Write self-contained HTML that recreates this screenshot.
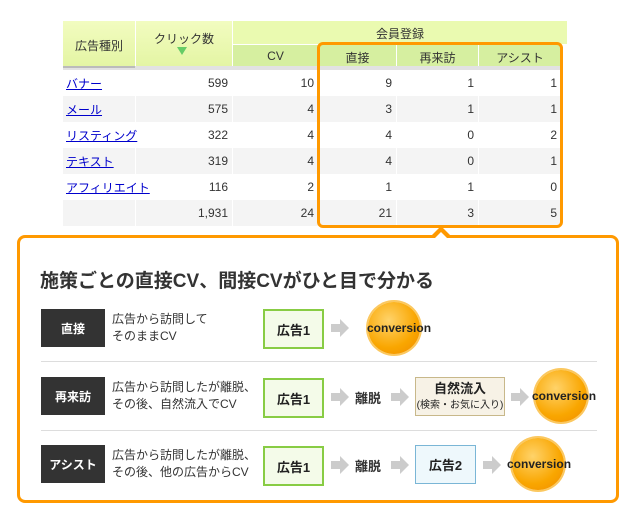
<!DOCTYPE html>
<html><head><meta charset="utf-8"><style>
body{margin:0;width:635px;height:524px;background:#fff;position:relative;overflow:hidden;font-family:"Liberation Sans","Noto Sans CJK JP",sans-serif;color:#333}
.a{position:absolute}
.c{position:absolute;font-size:12px;color:#333}
.r{text-align:right}
.lk{color:#00c;text-decoration:underline;font-size:12px}
.lab{position:absolute;left:41px;width:64px;height:38px;background:#333;color:#fff;font-size:12px;font-weight:bold;display:flex;align-items:center;justify-content:center}
.txt{position:absolute;left:112px;font-size:12px;line-height:17px;color:#333;white-space:nowrap}
.bx{position:absolute;height:36px;display:flex;flex-direction:column;align-items:center;justify-content:center;font-size:13px;font-weight:bold;color:#222}
.ar{position:absolute;width:0;height:0;border-top:9px solid transparent;border-bottom:9px solid transparent;border-left:9px solid #ccc}
.ars{position:absolute;height:8px;width:10px;background:#ccc}
.sun{position:absolute;width:52px;height:52px;border-radius:50%;background:radial-gradient(circle at 40% 35%,#ffd36a,#f9a600 60%,#f08a00);box-shadow:0 0 0 2px #fbc860}
.cv{position:absolute;font-size:12px;font-weight:bold;color:#222;white-space:nowrap}
.mt{position:absolute;font-size:13px;font-weight:bold;color:#333}
</style></head><body>
<div class="a" style="left:63px;top:21px;width:72px;height:45px;background:linear-gradient(#f2fcc0,#e4f5a4)"></div>
<div class="a" style="left:136px;top:21px;width:96px;height:45px;background:linear-gradient(#f2fcc0,#e4f5a4)"></div>
<div class="a" style="left:233px;top:21px;width:334px;height:23px;background:#eafab0"></div>
<div class="a" style="left:233px;top:45px;width:85px;height:21px;background:#d6efa0"></div>
<div class="a" style="left:319px;top:45px;width:77px;height:21px;background:#d6efa0"></div>
<div class="a" style="left:397px;top:45px;width:81px;height:21px;background:#d6efa0"></div>
<div class="a" style="left:479px;top:45px;width:82px;height:21px;background:#d6efa0"></div>
<div class="a" style="left:63px;top:66px;width:498px;height:4px;background:#e2e2e2"></div>
<div class="a" style="left:63px;top:66px;width:72px;height:2px;background:#bbb"></div>
<div class="c" style="left:63px;top:37px;width:72px;text-align:center">広告種別</div>
<div class="c" style="left:136px;top:30px;width:96px;text-align:center">クリック数</div>
<div class="a" style="left:177px;top:47px;border-left:5px solid transparent;border-right:5px solid transparent;border-top:8px solid #6c6"></div>
<div class="c" style="left:233px;top:25px;width:334px;text-align:center">会員登録</div>
<div class="c" style="left:233px;top:49px;width:85px;text-align:center">CV</div>
<div class="c" style="left:319px;top:49px;width:77px;text-align:center">直接</div>
<div class="c" style="left:397px;top:49px;width:81px;text-align:center">再来訪</div>
<div class="c" style="left:479px;top:49px;width:82px;text-align:center">アシスト</div>
<div class="a" style="left:63px;top:96px;width:498px;height:26px;background:#f4f4f4"></div>
<div class="a" style="left:63px;top:148px;width:498px;height:26px;background:#f4f4f4"></div>
<div class="a" style="left:63px;top:200px;width:498px;height:26px;background:#f4f4f4"></div>
<div class="a" style="left:135px;top:70px;width:1px;height:156px;background:#fff"></div>
<div class="a" style="left:232px;top:70px;width:1px;height:156px;background:#fff"></div>
<div class="a" style="left:318px;top:70px;width:1px;height:156px;background:#fff"></div>
<div class="a" style="left:396px;top:70px;width:1px;height:156px;background:#fff"></div>
<div class="a" style="left:478px;top:70px;width:1px;height:156px;background:#fff"></div>
<div class="a" style="left:66px;top:75px"><span class="lk">バナー</span></div>
<div class="a" style="left:66px;top:101px"><span class="lk">メール</span></div>
<div class="a" style="left:66px;top:127px"><span class="lk">リスティング</span></div>
<div class="a" style="left:66px;top:153px"><span class="lk">テキスト</span></div>
<div class="a" style="left:66px;top:179px"><span class="lk">アフィリエイト</span></div>
<div class="c r" style="left:136px;top:70px;width:92px;line-height:26px">599<br>575<br>322<br>319<br>116<br>1,931</div>
<div class="c r" style="left:233px;top:70px;width:81px;line-height:26px">10<br>4<br>4<br>4<br>2<br>24</div>
<div class="c r" style="left:319px;top:70px;width:73px;line-height:26px">9<br>3<br>4<br>4<br>1<br>21</div>
<div class="c r" style="left:397px;top:70px;width:77px;line-height:26px">1<br>1<br>0<br>0<br>1<br>3</div>
<div class="c r" style="left:479px;top:70px;width:78px;line-height:26px">1<br>1<br>2<br>1<br>0<br>5</div>
<div class="a" style="left:317px;top:42px;width:246px;height:186px;border:3px solid #f90;border-radius:6px;box-sizing:border-box"></div>
<div class="a" style="left:17px;top:235px;width:602px;height:268px;border:3px solid #f90;border-radius:8px;box-sizing:border-box"></div>
<div class="a" style="left:430px;top:226px;border-left:11px solid transparent;border-right:11px solid transparent;border-bottom:11px solid #f90"></div>
<div class="a" style="left:434px;top:232px;border-left:7px solid transparent;border-right:7px solid transparent;border-bottom:7px solid #fff"></div>
<div class="a" style="left:40px;top:266px;font-size:19px;font-weight:bold;color:#333;white-space:nowrap">施策ごとの直接CV、間接CVがひと目で分かる</div>
<div class="a" style="left:41px;top:361px;width:556px;height:1px;background:#ddd"></div>
<div class="a" style="left:41px;top:430px;width:556px;height:1px;background:#ddd"></div>
<!-- row1 -->
<div class="lab" style="top:309px">直接</div>
<div class="txt" style="top:311px">広告から訪問して<br>そのままCV</div>
<div class="bx" style="left:263px;top:309px;width:57px;border:2px solid #8c4;background:#f4fbe9">広告1</div>
<div class="ars" style="left:331px;top:324px"></div><div class="ar" style="left:340px;top:319px"></div>
<div class="sun" style="left:368px;top:302px"></div><div class="cv" style="left:367px;top:321px">conversion</div>
<!-- row2 -->
<div class="lab" style="top:377px">再来訪</div>
<div class="txt" style="top:379px">広告から訪問したが離脱、<br>その後、自然流入でCV</div>
<div class="bx" style="left:263px;top:378px;width:57px;border:2px solid #8c4;background:#f4fbe9">広告1</div>
<div class="ars" style="left:331px;top:393px"></div><div class="ar" style="left:340px;top:388px"></div>
<div class="mt" style="left:355px;top:388px">離脱</div>
<div class="ars" style="left:391px;top:393px"></div><div class="ar" style="left:400px;top:388px"></div>
<div class="bx" style="left:415px;top:377px;width:88px;height:37px;border:1px solid #c8b88a;background:#f7f2e6;font-size:13px;line-height:17px">自然流入<span style="font-size:10px;font-weight:normal">(検索・お気に入り)</span></div>
<div class="ars" style="left:511px;top:393px"></div><div class="ar" style="left:520px;top:388px"></div>
<div class="sun" style="left:535px;top:370px"></div><div class="cv" style="left:532px;top:389px">conversion</div>
<!-- row3 -->
<div class="lab" style="top:445px">アシスト</div>
<div class="txt" style="top:447px">広告から訪問したが離脱、<br>その後、他の広告からCV</div>
<div class="bx" style="left:263px;top:446px;width:57px;border:2px solid #8c4;background:#f4fbe9">広告1</div>
<div class="ars" style="left:331px;top:461px"></div><div class="ar" style="left:340px;top:456px"></div>
<div class="mt" style="left:355px;top:456px">離脱</div>
<div class="ars" style="left:391px;top:461px"></div><div class="ar" style="left:400px;top:456px"></div>
<div class="bx" style="left:415px;top:445px;width:59px;height:37px;border:1px solid #7ab6d6;background:#eef8fc">広告2</div>
<div class="ars" style="left:483px;top:461px"></div><div class="ar" style="left:492px;top:456px"></div>
<div class="sun" style="left:512px;top:438px"></div><div class="cv" style="left:507px;top:457px">conversion</div>
</body></html>
